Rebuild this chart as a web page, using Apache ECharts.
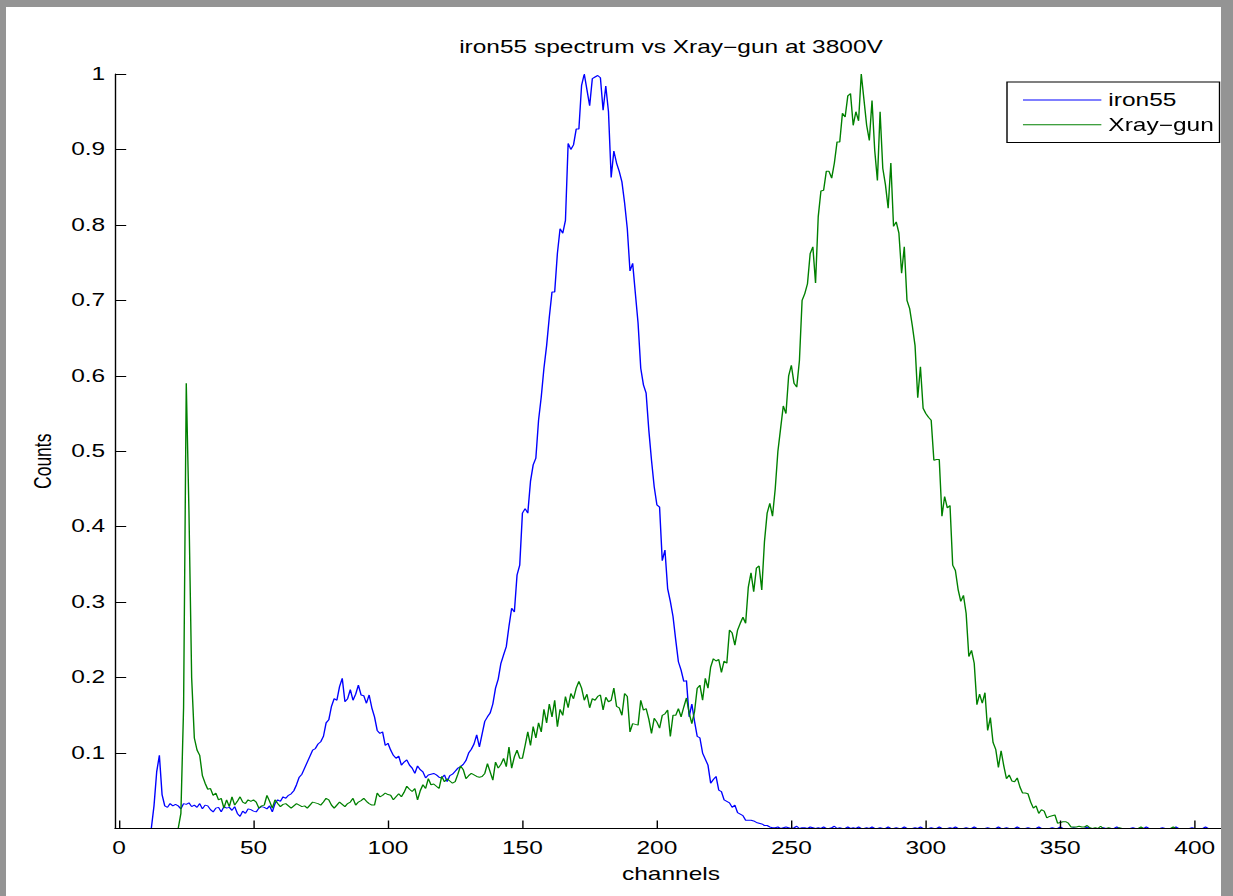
<!DOCTYPE html>
<html>
<head>
<meta charset="utf-8">
<script src="https://cdn.jsdelivr.net/npm/echarts@6/dist/echarts.min.js"></script>
<style>
  html, body { margin: 0; padding: 0; background: #fff; overflow: hidden; }
  #wrap { position: absolute; left: 0; top: 0; width: 1233px; height: 896px; overflow: hidden; }
  #chart { position: absolute; left: 0; top: 0; height: 896px; transform-origin: 0 0; }
  .frame { position: absolute; background: #949494; z-index: 10; }
</style>
</head>
<body>
<div id="wrap">
  <div id="chart"></div>
  <div class="frame" style="left:0;top:0;width:1233px;height:7px;"></div>
  <div class="frame" style="left:0;top:0;width:6px;height:896px;"></div>
  <div class="frame" style="left:1221px;top:0;width:12px;height:896px;"></div>
</div>
<script>
// ---------------- data ----------------
const titleText = 'iron55 spectrum vs Xray\u2212gun at 3800V';
const xAxisTitle = 'channels';
const yAxisTitle = 'Counts';
const seriesNames = ['iron55', 'Xray\u2212gun'];
const xTicks = [0, 50, 100, 150, 200, 250, 300, 350, 400];
const yTicks = [0.1, 0.2, 0.3, 0.4, 0.5, 0.6, 0.7, 0.8, 0.9, 1];

const ironStart = 12;   // channel of first iron55 value
const iron55 = [
  0, 0.03, 0.075, 0.097, 0.045, 0.03, 0.028, 0.033, 0.03, 0.032,
  0.03, 0.026, 0.033, 0.032, 0.034, 0.029, 0.031, 0.028, 0.033, 0.026,
  0.031, 0.03, 0.025, 0.022, 0.027, 0.028, 0.022, 0.029, 0.027, 0.028,
  0.024, 0.029, 0.02, 0.016, 0.023, 0.02, 0.026, 0.025, 0.023, 0.022,
  0.027, 0.029, 0.028, 0.026, 0.03, 0.022, 0.033, 0.038, 0.036, 0.042,
  0.04, 0.044, 0.046, 0.05, 0.058, 0.068, 0.072, 0.08, 0.088, 0.096,
  0.104, 0.106, 0.112, 0.115, 0.122, 0.14, 0.144, 0.162, 0.172, 0.17,
  0.188, 0.199, 0.168, 0.172, 0.184, 0.17, 0.178, 0.19, 0.177, 0.176,
  0.166, 0.177, 0.16, 0.148, 0.13, 0.126, 0.128, 0.11, 0.113, 0.104,
  0.097, 0.093, 0.096, 0.084, 0.088, 0.091, 0.084, 0.08, 0.073, 0.083,
  0.078, 0.075, 0.067, 0.071, 0.072, 0.073, 0.071, 0.068, 0.067, 0.071,
  0.062, 0.07, 0.072, 0.076, 0.08, 0.082, 0.085, 0.09, 0.1, 0.105,
  0.112, 0.124, 0.108, 0.125, 0.142, 0.148, 0.153, 0.165, 0.186, 0.198,
  0.219, 0.23, 0.241, 0.268, 0.292, 0.287, 0.336, 0.349, 0.418, 0.424,
  0.418, 0.46, 0.482, 0.491, 0.541, 0.572, 0.61, 0.64, 0.678, 0.711,
  0.711, 0.762, 0.795, 0.789, 0.806, 0.908, 0.9, 0.906, 0.927, 0.927,
  0.985, 1.0, 0.979, 0.958, 0.994, 0.996, 0.998, 0.995, 0.952, 0.984,
  0.95, 0.863, 0.898, 0.882, 0.871, 0.857, 0.829, 0.795, 0.739, 0.749,
  0.709, 0.67, 0.61, 0.588, 0.577, 0.528, 0.488, 0.453, 0.429, 0.426,
  0.355, 0.369, 0.318, 0.301, 0.281, 0.25, 0.221, 0.21, 0.195, 0.196,
  0.148, 0.165, 0.142, 0.122, 0.12, 0.1, 0.092, 0.084, 0.06, 0.065,
  0.069, 0.051, 0.049, 0.038, 0.036, 0.034, 0.028, 0.031, 0.021, 0.019,
  0.017, 0.011, 0.011, 0.011, 0.01, 0.008, 0.007, 0.006, 0.004, 0.004,
  0.002, 0.001, 0.001, 0.002, 0, 0.001, 0.002, 0.001, 0, 0.001,
  0.003, 0, 0.001, 0.001, 0, 0.002, 0.001, 0, 0.001, 0,
  0.002, 0, 0, 0.001, 0.003, 0, 0.001, 0, 0, 0.002,
  0, 0.001, 0, 0.002, 0, 0, 0.001, 0, 0.002, 0,
  0, 0.001, 0, 0, 0.002, 0, 0, 0.001, 0, 0,
  0.002, 0, 0, 0, 0.001, 0, 0.002, 0, 0, 0,
  0.001, 0, 0, 0.002, 0, 0, 0, 0.001, 0, 0.002,
  0, 0, 0, 0.001, 0, 0, 0.002, 0, 0, 0,
  0, 0.001, 0, 0, 0, 0.002, 0, 0, 0.001, 0,
  0, 0, 0.002, 0, 0, 0, 0.001, 0, 0, 0,
  0.002, 0, 0, 0, 0, 0.001, 0, 0, 0.002, 0,
  0, 0, 0, 0.001, 0, 0, 0, 0, 0.002, 0,
  0, 0, 0, 0, 0.001, 0, 0, 0, 0, 0.002,
  0, 0, 0, 0, 0, 0.001, 0, 0, 0, 0,
  0.002, 0, 0, 0, 0, 0, 0.001, 0, 0, 0,
  0, 0.002, 0, 0, 0, 0, 0, 0.001, 0, 0,
  0, 0, 0.002, 0, 0, 0, 0
];

const xrayStart = 22;   // channel of first Xray-gun value
const xrayGun = [
  0, 0.02, 0.16, 0.59, 0.42, 0.2, 0.12, 0.104, 0.097, 0.07,
  0.06, 0.052, 0.053, 0.044, 0.047, 0.038, 0.04, 0.027, 0.038, 0.029,
  0.042, 0.031, 0.036, 0.042, 0.035, 0.033, 0.038, 0.036, 0.038, 0.035,
  0.027, 0.03, 0.031, 0.044, 0.036, 0.027, 0.038, 0.033, 0.029, 0.032,
  0.033, 0.03, 0.027, 0.03, 0.033, 0.031, 0.029, 0.03, 0.027, 0.031,
  0.035, 0.034, 0.033, 0.031, 0.035, 0.04, 0.038, 0.031, 0.027, 0.031,
  0.035, 0.032, 0.029, 0.033, 0.035, 0.04, 0.031, 0.035, 0.037, 0.04,
  0.036, 0.033, 0.031, 0.031, 0.047, 0.042, 0.044, 0.047, 0.045, 0.044,
  0.038, 0.042, 0.046, 0.042, 0.048, 0.056, 0.052, 0.049, 0.053, 0.038,
  0.05, 0.058, 0.053, 0.066, 0.058, 0.059, 0.056, 0.053, 0.069, 0.062,
  0.066, 0.063, 0.06, 0.062, 0.072, 0.083, 0.078, 0.066, 0.07, 0.073,
  0.071, 0.069, 0.068, 0.069, 0.073, 0.086, 0.075, 0.064, 0.088, 0.08,
  0.085, 0.093, 0.082, 0.108, 0.08, 0.095, 0.104, 0.093, 0.093, 0.11,
  0.128, 0.11, 0.135, 0.12, 0.14, 0.128, 0.158, 0.14, 0.165, 0.148,
  0.17, 0.135, 0.158, 0.15, 0.175, 0.16, 0.179, 0.172, 0.186, 0.195,
  0.186, 0.17, 0.178, 0.16, 0.172, 0.17, 0.175, 0.177, 0.157, 0.174,
  0.168, 0.17, 0.186, 0.162, 0.16, 0.15, 0.179, 0.175, 0.128, 0.139,
  0.138, 0.137, 0.17, 0.157, 0.159, 0.145, 0.126, 0.146, 0.141, 0.133,
  0.15, 0.152, 0.157, 0.122, 0.15, 0.15, 0.159, 0.148, 0.161, 0.173,
  0.153, 0.139, 0.155, 0.186, 0.19, 0.17, 0.199, 0.186, 0.214, 0.225,
  0.222, 0.224, 0.207, 0.222, 0.219, 0.263, 0.259, 0.243, 0.263, 0.272,
  0.28, 0.272, 0.32, 0.339, 0.314, 0.345, 0.348, 0.316, 0.38, 0.418,
  0.431, 0.414, 0.45, 0.5, 0.53, 0.56, 0.55, 0.6, 0.614, 0.59,
  0.585, 0.62, 0.7, 0.709, 0.722, 0.762, 0.771, 0.723, 0.811, 0.845,
  0.846, 0.871, 0.871, 0.862, 0.882, 0.91, 0.91, 0.948, 0.943, 0.971,
  0.974, 0.932, 0.95, 0.938, 1.0, 0.966, 0.932, 0.912, 0.965, 0.899,
  0.859, 0.95, 0.875, 0.853, 0.822, 0.882, 0.798, 0.804, 0.789, 0.736,
  0.771, 0.7, 0.689, 0.666, 0.64, 0.571, 0.612, 0.557, 0.55, 0.545,
  0.541, 0.488, 0.489, 0.489, 0.414, 0.44, 0.425, 0.428, 0.349, 0.342,
  0.317, 0.301, 0.309, 0.285, 0.228, 0.236, 0.219, 0.164, 0.178, 0.166,
  0.18, 0.13, 0.147, 0.114, 0.105, 0.081, 0.103, 0.083, 0.066, 0.071,
  0.063, 0.062, 0.067, 0.055, 0.047, 0.047, 0.046, 0.035, 0.027, 0.03,
  0.02, 0.025, 0.023, 0.014, 0.016, 0.017, 0.018, 0.007, 0.008, 0.009,
  0.009, 0.007, 0.002, 0.002, 0.002, 0.003, 0.002, 0.002, 0.004, 0.001,
  0, 0.001, 0, 0.003, 0, 0, 0.001, 0, 0, 0,
  0.001, 0, 0, 0, 0, 0, 0, 0, 0.002, 0,
  0, 0, 0, 0, 0, 0, 0, 0, 0, 0,
  0.002, 0, 0, 0, 0, 0, 0, 0, 0, 0,
  0, 0, 0, 0, 0, 0, 0
];

// ---------------- layout ----------------
// The reference figure is stretched horizontally; draw at a narrower width and stretch.
const SX = 1.4;
const W = 1233 / SX;
const FONT = "'Liberation Sans', Arial, Helvetica, sans-serif";
const FS = 17.5;

const dom = document.getElementById('chart');
dom.style.width = W + 'px';
dom.style.transform = 'scaleX(' + SX + ')';

const chart = echarts.init(dom, null, { renderer: 'svg', width: W, height: 896 });

const ironData = iron55.map((v, i) => [ironStart + i, v]);
const xrayData = xrayGun.map((v, i) => [xrayStart + i, v]);

const gridLeft = 115 / SX;
const gridRight = 6 / SX;
const seriesColors = ['#0000ff', '#008000'];

const option = {
  animation: false,
  backgroundColor: '#ffffff',
  title: {
    text: titleText,
    left: (gridLeft + (W - gridRight)) / 2,
    top: 38,
    textAlign: 'center',
    padding: 0,
    textStyle: { fontFamily: FONT, fontSize: FS, fontWeight: 'normal', color: '#000' }
  },
  legend: {
    orient: 'vertical',
    left: 1007 / SX,
    top: 82,
    padding: [9, 4, 8.75, 11.4],
    itemGap: 6.75,
    itemWidth: 56,
    itemHeight: 1,
    icon: 'rect',
    backgroundColor: '#fff',
    borderColor: '#000',
    borderWidth: 1,
    borderRadius: 0,
    data: seriesNames.map((n, i) => ({
      name: n,
      icon: 'rect',
      itemStyle: { color: seriesColors[i], borderWidth: 0 }
    })),
    textStyle: { fontFamily: FONT, fontSize: FS, color: '#000' }
  },
  grid: { left: gridLeft, right: gridRight, top: 74, bottom: 896 - 828.5, containLabel: false },
  xAxis: {
    type: 'value',
    min: -1.5,
    max: 412,
    z: 5,
    name: xAxisTitle,
    nameLocation: 'middle',
    nameGap: 37,
    nameTextStyle: { fontFamily: FONT, fontSize: FS, color: '#000' },
    axisLine: { show: true, onZero: false, lineStyle: { color: '#000', width: 1 } },
    axisTick: { show: true, inside: true, length: 8, customValues: xTicks, lineStyle: { color: '#000' } },
    axisLabel: { customValues: xTicks, margin: 11, fontFamily: FONT, fontSize: FS, color: '#000' },
    splitLine: { show: false }
  },
  yAxis: {
    type: 'value',
    min: 0,
    max: 1,
    z: 5,
    name: yAxisTitle,
    nameLocation: 'middle',
    nameGap: 40,
    nameTextStyle: { fontFamily: FONT, fontSize: FS, color: '#000', padding: [0, 20, 0, 0] },
    axisLine: { show: true, onZero: false, lineStyle: { color: '#000', width: 1 } },
    axisTick: { show: true, inside: true, length: 8, customValues: yTicks, lineStyle: { color: '#000' } },
    axisLabel: { customValues: yTicks, margin: 7, fontFamily: FONT, fontSize: FS, color: '#000',
                 formatter: v => String(+v.toFixed(1)) },
    splitLine: { show: false }
  },
  series: [
    {
      name: seriesNames[0], type: 'line', data: ironData, showSymbol: false, symbol: 'none',
      color: seriesColors[0], itemStyle: { color: seriesColors[0] },
      lineStyle: { color: seriesColors[0], width: 1 }, z: 2
    },
    {
      name: seriesNames[1], type: 'line', data: xrayData, showSymbol: false, symbol: 'none',
      color: seriesColors[1], itemStyle: { color: seriesColors[1] },
      lineStyle: { color: seriesColors[1], width: 1 }, z: 2
    }
  ]
};
chart.setOption(option);
</script>
</body>
</html>
